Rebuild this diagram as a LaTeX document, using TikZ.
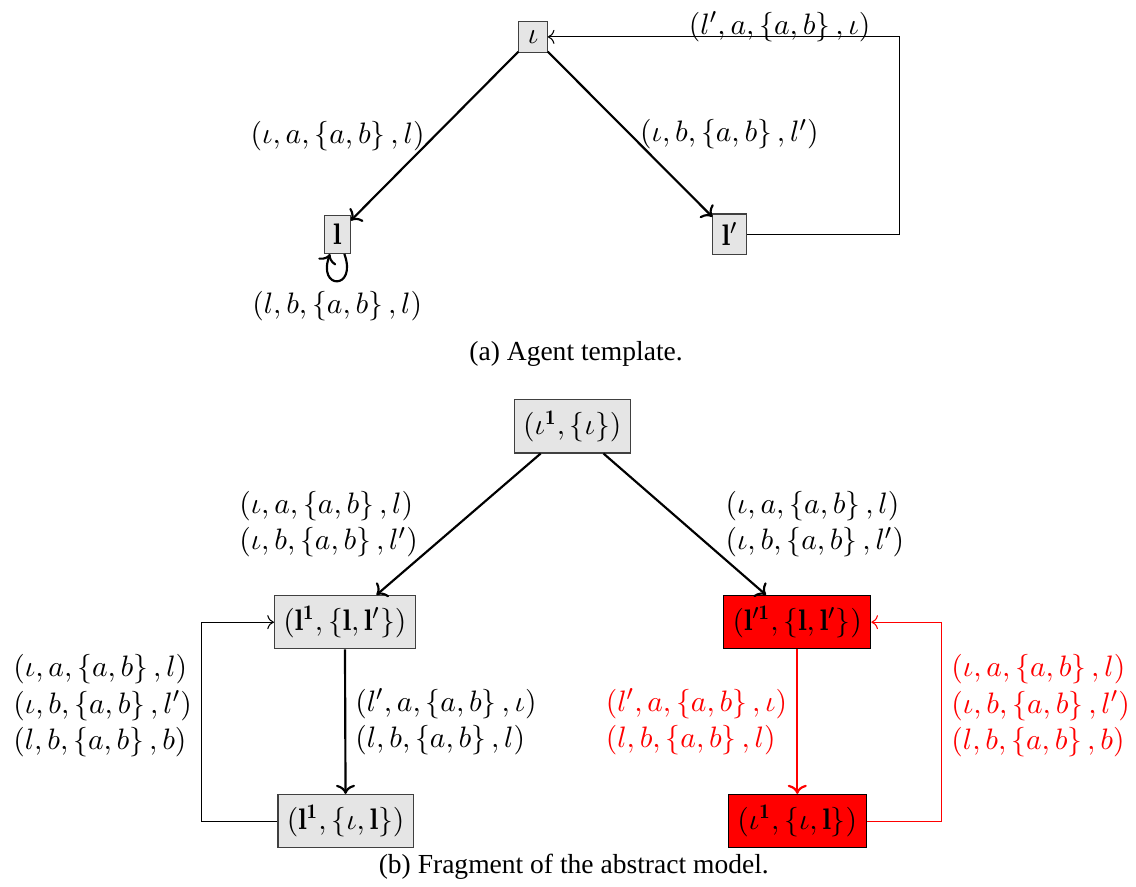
\documentclass[tikz,border=0pt]{standalone}
\usepackage{amsmath}
\usepackage{amssymb}
\usepackage{fontspec}
\newfontfamily\capfont{Liberation Serif}
\usepackage{tikz}
\usetikzlibrary{arrows.meta,positioning,calc}

\begin{document}
\begin{tikzpicture}[
  state/.style={draw=black!75, fill=gray!20, font=\fontsize{11}{13.5}\selectfont, inner sep=3.3pt},
  pair/.style={state, inner ysep=4pt},
  badpair/.style={pair, fill=red, draw=black},
  arr/.style={->, thick},
  fb/.style={->},
  label/.style={font=\fontsize{11}{13.5}\selectfont, align=left},
  caption/.style={font=\capfont\fontsize{10.2}{12}\selectfont}
]
\useasboundingbox (0,0) rectangle (14.79,-11.54);

% Agent template
\node[state] (iota) at (6.94,-0.48) {$\iota$};
\node[state] (l)    at (4.39,-3.05) {$\mathbf{l}$};
\node[state] (lp)   at (9.50,-3.05) {$\mathbf{l}'$};

\draw[arr] (iota) -- (l)  node[label,midway,left] (lab_il) {$(\iota, a, \left\{a, b\right\}, l)$};
\draw[arr] (iota) -- (lp) node[label,midway,right] (lab_ilp) {$(\iota, b, \left\{a, b\right\}, l')$};
\draw[arr] (l) to[loop, out=-70, in=-110, min distance=5mm]
  node[label,below] (lab_ll) {$(l, b, \left\{a, b\right\}, l)$} (l);
\draw[fb] (lp.east) -- ++(1.98,0) |- node[label,pos=0.67,anchor=base,yshift=1pt] (lab_lpi)
  {$(l', a, \left\{a, b\right\}, \iota)$} (iota.east);

\node[caption] (cap_a) at (7.50,-4.61) {(a) Agent template.};

% Abstract model fragment
\node[pair]    (top) at (7.45,-5.55)  {$(\iota^{\mathbf{1}}, \{\iota\})$};
\node[pair]    (l1)  at (4.49,-8.10)  {$(\mathbf{l}^{\mathbf{1}}, \{\mathbf{l}, \mathbf{l}'\})$};
\node[badpair] (lp1) at (10.38,-8.10) {$(\mathbf{l}'^{\mathbf{1}}, \{\mathbf{l}, \mathbf{l}'\})$};
\node[pair]    (bl)  at (4.50,-10.69) {$(\mathbf{l}^{\mathbf{1}}, \{\iota, \mathbf{l}\})$};
\node[badpair] (br)  at (10.38,-10.69){$(\iota^{\mathbf{1}}, \{\iota, \mathbf{l}\})$};

\draw[arr] (top) -- (l1) node[label,midway,left=4mm] (lab_top_l1)
  {$(\iota, a, \left\{a, b\right\}, l)$\\$(\iota, b, \left\{a, b\right\}, l')$};
\draw[arr] (top) -- (lp1) node[label,midway,right=4mm] (lab_top_lp1)
  {$(\iota, a, \left\{a, b\right\}, l)$\\$(\iota, b, \left\{a, b\right\}, l')$};

\draw[arr] (l1) -- (bl) node[label,midway,right] (lab_l1_bl)
  {$(l', a, \left\{a, b\right\}, \iota)$\\$(l, b, \left\{a, b\right\}, l)$};
\draw[fb] (bl.west) -- ++(-0.99,0) |- node[label,pos=0.29,left] (lab_bl_l1)
  {$(\iota, a, \left\{a, b\right\}, l)$\\$(\iota, b, \left\{a, b\right\}, l')$\\$(l, b, \left\{a, b\right\}, b)$} (l1.west);

% Red part
\draw[arr,red] (lp1) -- (br) node[label,midway,left] (lab_lp1_br)
  {$(l', a, \left\{a, b\right\}, \iota)$\\$(l, b, \left\{a, b\right\}, l)$};
\draw[fb,red] (br.east) -- ++(0.98,0) |- node[label,pos=0.29,right] (lab_br_lp1)
  {$(\iota, a, \left\{a, b\right\}, l)$\\$(\iota, b, \left\{a, b\right\}, l')$\\$(l, b, \left\{a, b\right\}, b)$} (lp1.east);

\node[caption] (cap_b) at (7.47,-11.28) {(b) Fragment of the abstract model.};

\end{tikzpicture}
\end{document}
